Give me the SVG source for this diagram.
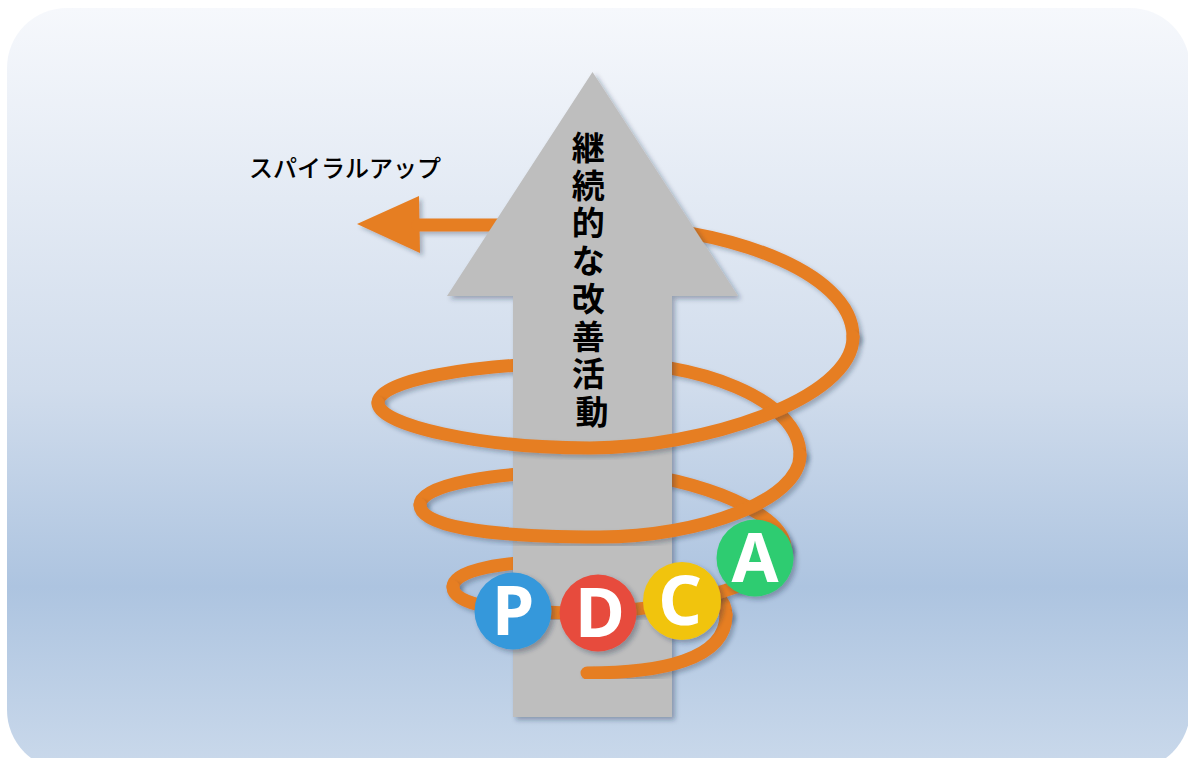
<svg xmlns="http://www.w3.org/2000/svg" width="1188" height="758" viewBox="0 0 1188 758">
  <defs>
    <linearGradient id="bg" x1="0" y1="8" x2="0" y2="770" gradientUnits="userSpaceOnUse">
      <stop offset="0" stop-color="#f6f8fc"/>
      <stop offset="0.5" stop-color="#d0dcec"/>
      <stop offset="0.76" stop-color="#adc4e0"/>
      <stop offset="1" stop-color="#cad9eb"/>
    </linearGradient>
    <filter id="sh" x="-20%" y="-20%" width="140%" height="140%">
      <feDropShadow dx="3" dy="3" stdDeviation="2.5" flood-color="#1a2a40" flood-opacity="0.35"/>
    </filter>
    <filter id="shs" x="-10%" y="-10%" width="120%" height="120%">
      <feDropShadow dx="3" dy="3" stdDeviation="2" flood-color="#1a2a40" flood-opacity="0.3"/>
    </filter>
  </defs>
  <style>
    .sp { fill: none; stroke: #e67e22; stroke-width: 13; stroke-linecap: round; filter: url(#shs); }
    .head { fill: #e67e22; }
    .circ { filter: url(#sh); }
    .letter { font-family: "Noto Sans", "Open Sans", "Liberation Sans", sans-serif; font-weight: bold; font-size: 68px; fill: #ffffff; text-anchor: middle; }
    .jp { font-family: "Noto Sans CJK JP", "Noto Sans CJK SC", sans-serif; fill: #000000; }
  </style>

  <g id="background">
    <rect x="7" y="8" width="1183" height="762" rx="60" ry="60" fill="url(#bg)"/>
  </g>

  <g id="connectors">
    <g id="spiral-back" filter="url(#shs)">
      <polygon class="head" points="357,224 419,196 420,253"/>
      <path class="sp" style="filter:none" d="M 418,225 L 600,225 C 720,225 853,270 853,337"/>
      <path class="sp" style="filter:none" d="M 378,403 C 378,380 470,364 590,362 C 700,360 800,400 800,455"/>
      <path class="sp" style="filter:none" d="M 420,505 C 420,485 490,472 590,471 C 680,470 785,510 785,548"/>
      <path class="sp" style="filter:none" d="M 453,587 C 453,570 500,561 580,560 C 670,559 726,585 726,615"/>
    </g>
  </g>

  <g id="arrow" filter="url(#sh)">
    <polygon points="592.5,72 738,296 672,296 672,717 513,717 513,296 447,296" fill="#bebebe"/>
  </g>

  <g id="spiral-front">
    <path class="sp" d="M 853,337 C 853,400 700,448 590,448 C 480,448 378,425 378,403"/>
    <path class="sp" d="M 800,455 C 800,500 700,537 600,537 C 480,537 420,525 420,505"/>
    <path class="sp" d="M 785,548 C 785,580 690,608 590,613 C 500,613 453,605 453,587"/>
    <path class="sp" d="M 726,615 C 726,660 660,673 587,673"/>
  </g>

  <g id="node-P">
    <circle class="circ" cx="513" cy="611" r="38.5" fill="#3498db"/>
    <text class="letter" x="513" y="635">P</text>
  </g>
  <g id="node-D">
    <circle class="circ" cx="598" cy="613" r="38.5" fill="#e74c3c"/>
    <text class="letter" x="600" y="637">D</text>
  </g>
  <g id="node-C">
    <circle class="circ" cx="682" cy="601" r="39" fill="#f1c40f"/>
    <text class="letter" x="680" y="625">C</text>
  </g>
  <g id="node-A">
    <circle class="circ" cx="755" cy="558" r="38.5" fill="#2ecc71"/>
    <text class="letter" x="755" y="582">A</text>
  </g>

  <g id="label-spiral">
    <text class="jp" x="249" y="177" font-size="24" font-weight="500">スパイラルアップ</text>
  </g>
  <g id="label-arrow">
    <text class="jp" font-size="33" font-weight="bold" text-anchor="middle">
      <tspan x="592" y="160">継</tspan>
      <tspan x="592" y="198">続</tspan>
      <tspan x="592" y="235">的</tspan>
      <tspan x="592" y="273">な</tspan>
      <tspan x="592" y="311">改</tspan>
      <tspan x="592" y="349">善</tspan>
      <tspan x="592" y="386">活</tspan>
      <tspan x="592" y="424">動</tspan>
    </text>
  </g>
</svg>
